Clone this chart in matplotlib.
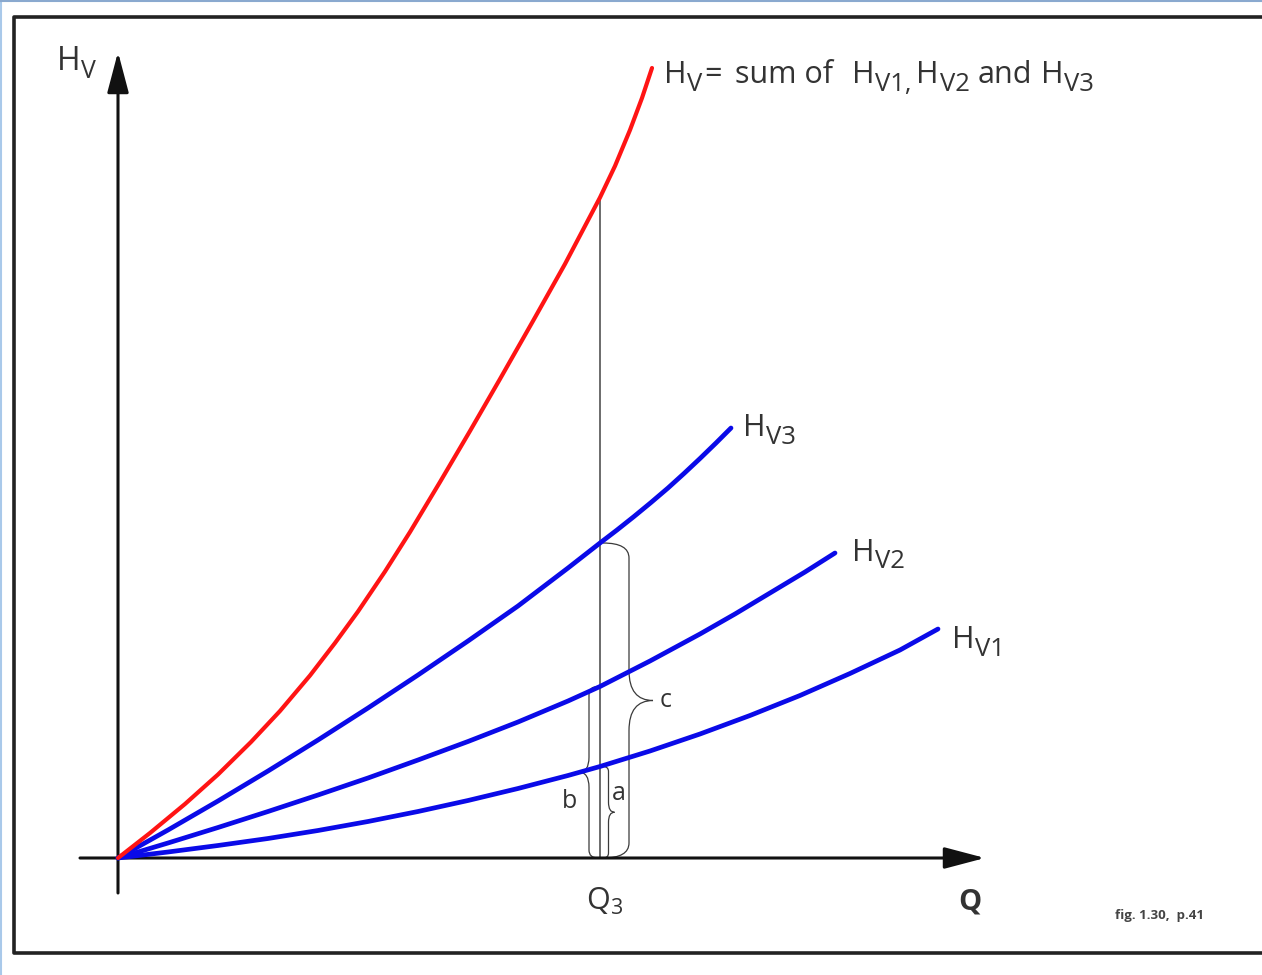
import numpy as np
import matplotlib
matplotlib.use("Agg")
import matplotlib.pyplot as plt
from matplotlib.path import Path
from matplotlib.patches import PathPatch
from matplotlib.lines import Line2D

plt.rcParams['font.family'] = ['Open Sans', 'DejaVu Sans']

# curves (Q, H in arbitrary units)
q_hv = [0, 3.2, 6.7, 10.0, 13.3, 16.2, 19.2, 21.7, 24.0, 26.7, 29.2, 32.2, 35.2, 38.2,
        41.5, 44.7, 48.2, 49.7, 51.2, 52.4, 53.4]
h_hv = [0, 2.5, 5.4, 8.35, 11.6, 14.7, 18.25, 21.5, 24.65, 28.65, 32.6, 37.6, 42.7, 47.9,
        53.7, 59.4, 66.05, 69.2, 72.8, 76.0, 79.0]

q_hv3 = [0, 5, 10, 15, 20, 25, 30, 35, 40, 45, 48.2, 49.9, 51.6, 53.3, 55.0, 56.6, 58.2, 59.8, 61.3]
h_hv3 = [0, 2.8, 5.7, 8.7, 11.8, 15.0, 18.3, 21.7, 25.2, 29.0, 31.5, 32.8, 34.15, 35.55, 37.0,
         38.45, 39.95, 41.5, 43.0]

q_hv2 = [0, 5, 10, 15, 20, 25, 30, 35, 40, 45, 48.2, 53.2, 58.2, 61.7, 65.2, 68.7, 71.7]
h_hv2 = [0, 1.5, 3.05, 4.65, 6.3, 8.0, 9.8, 11.65, 13.6, 15.7, 17.15, 19.7, 22.4, 24.4, 26.5, 28.6, 30.5]

q_hv1 = [0, 5, 10, 15, 20, 25, 30, 35, 40, 45, 48.2, 53.2, 58.2, 63.2, 68.2, 73.2, 78.2, 82.0]
h_hv1 = [0, 0.6, 1.25, 1.95, 2.75, 3.65, 4.65, 5.75, 6.95, 8.25, 9.15, 10.7, 12.4, 14.25, 16.25,
         18.45, 20.8, 22.9]

q3 = 48.2

# label pieces: (text, subscript?, gap after in pt)
lbl_hv = [('H', False, 0), ('V', True, 0.5), ('=', False, 9), ('sum of', False, 13),
          ('H', False, 0), ('V1,', True, 3), ('H', False, 0), ('V2', True, 5),
          ('and', False, 6), ('H', False, 0), ('V3', True, 0)]
lbl_hv3 = [('H', False, 0), ('V3', True, 0)]
lbl_hv2 = [('H', False, 0), ('V2', True, 0)]
lbl_hv1 = [('H', False, 0), ('V1', True, 0)]
lbl_y = [('H', False, 0), ('V', True, 0)]

txt = '#333333'
blue = '#0a0ae8'
red = '#ff1414'
fs = 22


def at_q3(q, h):
    return h[list(q).index(q3)]


def brace(ax, x0, y0, y1, w, t, r, rt):
    # vertical curly brace, ends at x0, body at x0+w, tip at x0+w+t
    xb = x0 + w
    ym = (y0 + y1) / 2
    verts = [(x0, y1), (xb, y1), (xb, y1 - r),
             (xb, ym + rt),
             (xb, ym), (xb + t, ym),
             (xb, ym), (xb, ym - rt),
             (xb, y0 + r),
             (xb, y0), (x0, y0)]
    codes = [Path.MOVETO, Path.CURVE3, Path.CURVE3, Path.LINETO,
             Path.CURVE3, Path.CURVE3, Path.CURVE3, Path.CURVE3,
             Path.LINETO, Path.CURVE3, Path.CURVE3]
    ax.add_patch(PathPatch(Path(verts, codes), fc='none', ec='#3a3a3a', lw=0.9))


def rich(ax, xy, parts, dx, dy, size, sub_scale=0.84, drop=0.24):
    # text with big subscripts, pieces chained left to right
    rend = ax.figure.canvas.get_renderer()
    x_off = dx
    for s, sub, gap in parts:
        t = ax.annotate(s, xy=xy, xytext=(x_off, dy - (size * drop if sub else 0)),
                        textcoords='offset points', fontsize=size * (sub_scale if sub else 1),
                        color=txt, ha='left', va='baseline')
        x_off += t.get_window_extent(rend).width * 72 / ax.figure.dpi + 0.6 + gap


fig = plt.figure(figsize=(12.62, 9.75), dpi=100)
ax = fig.add_axes([0, 0, 1, 1])
ax.set_xlim(-11.8, 114.4)
ax.set_ylim(-11.7, 85.8)
ax.axis('off')

# outer frame + window edge
fig.add_artist(Line2D([1, 0.0111, 0.0111, 1], [0.9826, 0.9826, 0.0226, 0.0226],
                      transform=fig.transFigure, color='#222222', lw=2.6))
fig.add_artist(Line2D([0.0008, 0.0008], [0, 1], transform=fig.transFigure,
                      color='#a9c9ea', lw=1.5))
fig.add_artist(Line2D([0, 1], [0.999, 0.999], transform=fig.transFigure,
                      color='#8aa9cf', lw=1.5))

# axes arrows
arrow = dict(arrowstyle='-|>,head_length=1.25,head_width=0.33', mutation_scale=20,
             lw=2.2, color='#111111', shrinkA=0, shrinkB=0)
ax.annotate('', xy=(0, 80.6), xytext=(0, -3.5), arrowprops=arrow)
ax.annotate('', xy=(86.7, 0), xytext=(-3.8, 0), arrowprops=arrow)

# Q3 line
ax.plot([q3, q3], [0, at_q3(q_hv, h_hv)], color='#444444', lw=1.1, zorder=1)

for q, h in [(q_hv1, h_hv1), (q_hv2, h_hv2), (q_hv3, h_hv3)]:
    ax.plot(q, h, color=blue, lw=3.4, solid_capstyle='round', solid_joinstyle='round', zorder=3)
ax.plot(q_hv, h_hv, color=red, lw=3.0, solid_capstyle='round', solid_joinstyle='round', zorder=4)

# braces
brace(ax, q3 + 0.3, 0, at_q3(q_hv3, h_hv3), 2.6, 2.4, 1.5, 3.0)
brace(ax, q3 - 0.2, 0, at_q3(q_hv2, h_hv2), -0.9, -1.0, 0.8, 1.5)
brace(ax, q3 + 0.3, 0, at_q3(q_hv1, h_hv1), 0.55, 0.6, 0.5, 1.0)

ax.text(q3 + 6.6, at_q3(q_hv3, h_hv3) / 2, 'c', fontsize=18, color=txt, ha='center', va='center')
ax.text(q3 - 3.0, 5.6, 'b', fontsize=18, color=txt, ha='center', va='center')
ax.text(q3 + 1.9, 6.4, 'a', fontsize=18, color=txt, ha='center', va='center')

# curve labels
rich(ax, (q_hv[-1], h_hv[-1]), lbl_hv, 8.5, -11, fs)
rich(ax, (q_hv3[-1], h_hv3[-1]), lbl_hv3, 8.5, -6, fs)
rich(ax, (q_hv2[-1], h_hv2[-1]), lbl_hv2, 12, -5.5, fs)
rich(ax, (q_hv1[-1], h_hv1[-1]), lbl_hv1, 10, -14, fs)

# axis labels
rich(ax, (0, 80.6), lbl_y, -44, -13, 23, sub_scale=0.78)
ax.text(85.2, -5.2, 'Q', fontsize=21, fontweight='bold', color=txt, ha='center', va='baseline')
ax.text(q3 + 0.5, -5.2, r'Q$\mathregular{_3}$', fontsize=fs, color=txt, ha='center', va='baseline')

fig.text(0.919, 0.061, 'fig. 1.30,  p.41', fontsize=9.5, fontweight='bold', color='#444444',
         ha='center', va='center')

plt.savefig('out.png', dpi=100)
